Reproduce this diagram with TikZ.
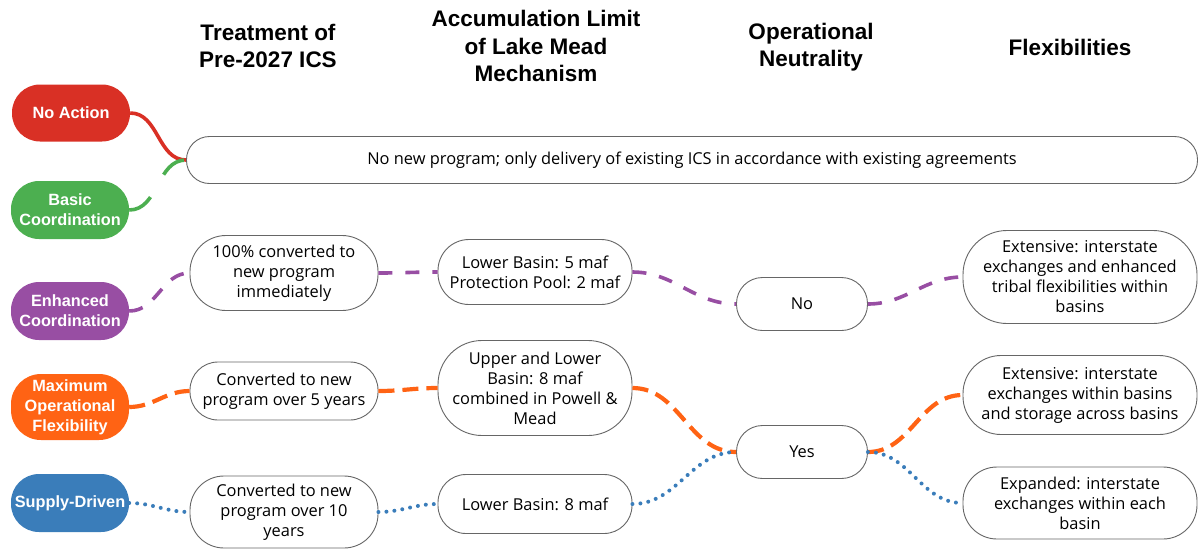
\documentclass[tikz,border=0pt]{standalone}
\usepackage{fontspec}
\setmainfont{Open Sans}
\newfontfamily\headfont{Liberation Sans}
\usetikzlibrary{arrows}

\definecolor{naRed}{HTML}{D93025}
\definecolor{bcGreen}{HTML}{4CAF50}
\definecolor{ecPurple}{HTML}{984EA3}
\definecolor{mfOrange}{HTML}{FF6314}
\definecolor{sdBlue}{HTML}{3A7DBA}

\begin{document}
\begin{tikzpicture}[x=1pt,y=-1pt,
  box/.style={draw=black!60, line width=0.9pt, fill=white, rounded corners=26pt,
    align=center, inner sep=1pt, font=\fontsize{16.4}{20}\selectfont},
  alt/.style={fill=#1, rounded corners=28pt, text=white, align=center, inner sep=1pt,
    minimum width=118pt, font=\headfont\fontsize{16.3}{20}\selectfont\bfseries},
  head/.style={align=center, font=\headfont\fontsize{22.5}{27.5}\selectfont\bfseries},
  link/.style={line width=3.6pt, draw=#1}]

\useasboundingbox (0,0) rectangle (1199,550);

% column heads
\node[head] (hTreat) at (268,46) {Treatment of\\Pre-2027 ICS};
\node[head] (hAcc) at (536,46) {Accumulation Limit\\of Lake Mead\\Mechanism};
\node[head] (hNeu) at (811,47) {Operational\\Neutrality};
\node[head] (hFlex) at (1070,47) {Flexibilities};

% alternatives
\node[alt=naRed, minimum height=57pt] (noaction) at (71,113) {No Action};
\node[alt=bcGreen, minimum height=58pt] (basic) at (70,210) {Basic\\Coordination};
\node[alt=ecPurple, minimum height=58pt] (enhanced) at (70,311) {Enhanced\\Coordination};
\node[alt=mfOrange, minimum height=66pt, rounded corners=30pt] (maxflex) at (70,407) {Maximum\\Operational\\Flexibility};
\node[alt=sdBlue, minimum height=58pt] (supply) at (70,503) {Supply-Driven};

\node[box, minimum width=1011pt, minimum height=47pt, rounded corners=23pt] (nonew) at (692,160)
  {No new program; only delivery of existing ICS in accordance with existing agreements};

% treatment of pre-2027 ICS
\node[box, minimum width=188pt, minimum height=75pt, rounded corners=36pt] (pre1) at (284,273) {100\% converted to\\new program\\immediately};
\node[box, minimum width=188pt, minimum height=58pt, rounded corners=28pt] (pre2) at (284,391) {Converted to new\\program over 5 years};
\node[box, minimum width=188pt, minimum height=72pt, rounded corners=34pt] (pre3) at (284,512) {Converted to new\\program over 10\\years};

% accumulation limit
\node[box, minimum width=194pt, minimum height=65pt, rounded corners=31pt] (acc1) at (535,272) {Lower Basin: 5 maf\\Protection Pool: 2 maf};
\node[box, minimum width=194pt, minimum height=95pt, rounded corners=44pt] (acc2) at (535,388) {Upper and Lower\\Basin: 8 maf\\combined in Powell \&\\Mead};
\node[box, minimum width=194pt, minimum height=59pt, rounded corners=28pt] (acc3) at (535,504) {Lower Basin: 8 maf};

% operational neutrality
\node[box, minimum width=131pt, minimum height=53pt] (neuNo) at (802,304) {No};
\node[box, minimum width=131pt, minimum height=53pt] (neuYes) at (802,452) {Yes};

% flexibilities
\node[box, minimum width=234pt, minimum height=93pt, rounded corners=44pt] (flex1) at (1080,277) {Extensive: interstate\\exchanges and enhanced\\tribal flexibilities within\\basins};
\node[box, minimum width=234pt, minimum height=79pt, rounded corners=38pt] (flex2) at (1080,395) {Extensive: interstate\\exchanges within basins\\and storage across basins};
\node[box, minimum width=234pt, minimum height=72pt, rounded corners=34pt] (flex3) at (1080,503) {Expanded: interstate\\exchanges within each\\basin};

% connectors
\draw[link=naRed] (noaction.east) to[out=0,in=180] (nonew.west);
\draw[link=bcGreen, dash pattern=on 26pt off 26pt] (basic.east) to[out=0,in=180] (nonew.west);

\draw[link=ecPurple, dash pattern=on 14pt off 13pt] (enhanced.east) to[out=0,in=180] (pre1.west);
\draw[link=ecPurple, dash pattern=on 14pt off 13pt] (pre1.east) to[out=0,in=180] (acc1.west);
\draw[link=ecPurple, dash pattern=on 14pt off 13pt] (acc1.east) to[out=0,in=180] (neuNo.west);
\draw[link=ecPurple, dash pattern=on 14pt off 13pt] (neuNo.east) to[out=0,in=180] (flex1.west);

\draw[link=mfOrange, line width=4.2pt, dash pattern=on 16pt off 8pt] (maxflex.east) to[out=0,in=180] (pre2.west);
\draw[link=mfOrange, line width=4.2pt, dash pattern=on 16pt off 8pt] (pre2.east) to[out=0,in=180] (acc2.west);
\draw[link=mfOrange, line width=4.2pt, dash pattern=on 16pt off 8pt] (acc2.east) to[out=0,in=180] (neuYes.west);
\draw[link=mfOrange, line width=4.2pt, dash pattern=on 16pt off 8pt] (neuYes.east) to[out=0,in=180] (flex2.west);

\draw[link=sdBlue, line width=4pt, line cap=round, dash pattern=on 0pt off 8pt] (supply.east) to[out=0,in=180] (pre3.west);
\draw[link=sdBlue, line width=4pt, line cap=round, dash pattern=on 0pt off 8pt] (pre3.east) to[out=0,in=180] (acc3.west);
\draw[link=sdBlue, line width=4pt, line cap=round, dash pattern=on 0pt off 8pt] (acc3.east) to[out=0,in=180] (neuYes.west);
\draw[link=sdBlue, line width=4pt, line cap=round, dash pattern=on 0pt off 8pt] (neuYes.east) to[out=0,in=180] (flex3.west);

\end{tikzpicture}
\end{document}
